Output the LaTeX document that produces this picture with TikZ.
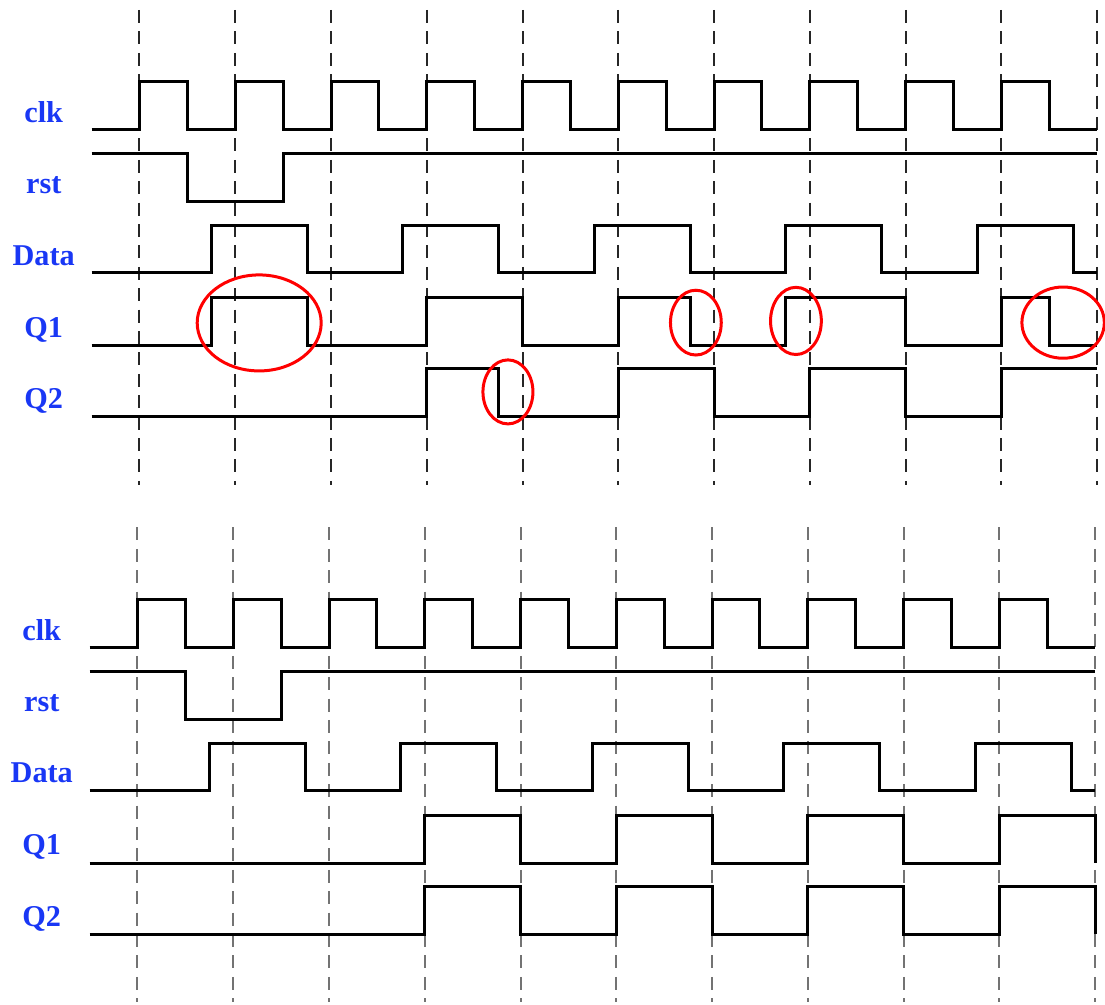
\documentclass[tikz,border=0pt]{standalone}
\usepackage{fontspec}
\setmainfont{Liberation Serif}
\usepackage{tikz}
\tikzset{>=latex}
\definecolor{Label}{RGB}{25,55,245}
\tikzset{sig/.style={line width=0.075cm,line join=miter},
         grid/.style={line width=0.05cm,dash pattern=on 0.325cm off 0.21cm},
         lbl/.style={text=Label,anchor=base,font=\fontsize{21.5}{21.5}\selectfont\bfseries},
         ring/.style={red,line width=0.075cm}}
\newcommand{\panel}[3]{%
  \foreach \k in {0,...,10} \draw[grid,#1] (4*\k,10) -- (4*\k,485);
  \draw[sig] (-2,130) \foreach \k in {0,...,9}{-- (4*\k,130) -- (4*\k,82) -- (4*\k+2,82) -- (4*\k+2,130)} -- (40,130);
  \draw[sig] plot[const plot] coordinates {(-2,154) (2,202) (6,154) (40,154)};
  \draw[sig] plot[const plot] coordinates {(-2,273) (3,226) (7,273) (11,226) (15,273) (19,226) (23,273) (27,226) (31,273) (35,226) (39,273) (40,273)};
  \draw[sig] plot[const plot] coordinates {#2};
  \draw[sig] plot[const plot] coordinates {#3};
  \node[lbl] (clk) at (-4,123) {clk};
  \node[lbl] (rst) at (-4,194) {rst};
  \node[lbl] (data) at (-4,265.5) {Data};
  \node[lbl] (q1) at (-4,337.5) {Q1};
  \node[lbl] (q2) at (-4,409) {Q2};
}
\begin{document}
\begin{tikzpicture}[x=0.5985cm,y=-0.025cm]
  \useasboundingbox (-5.827,0) rectangle (40.33,1005);
  \begin{scope}[name prefix=top-]
    \panel{black!85}{(-2,346) (3,298) (7,346) (12,298) (16,346) (20,298) (23,346) (27,298) (32,346) (36,298) (38,346) (40,346)}{(-2,417) (12,369) (15,417) (20,369) (24,417) (28,369) (32,417) (36,369) (40,369)}
  \end{scope}
  \draw[ring] (5,323) ellipse [x radius=1.55cm,y radius=1.2cm];
  \draw[ring] (15.39,392) ellipse [x radius=0.625cm,y radius=0.8cm];
  \draw[ring] (23.24,322.7) ellipse [x radius=0.635cm,y radius=0.81cm];
  \draw[ring] (27.42,321) ellipse [x radius=0.635cm,y radius=0.84cm];
  \draw[ring] (38.58,322.7) ellipse [x radius=1.03cm,y radius=0.89cm];
  \begin{scope}[name prefix=bot-,shift={(-0.0835,517.5)}]
    \panel{black!55}{(-2,346) (12,298) (16,346) (20,298) (24,346) (28,298) (32,346) (36,298) (40,346)}{(-2,417) (12,369) (16,417) (20,369) (24,417) (28,369) (32,417) (36,369) (40,417)}
  \end{scope}
\end{tikzpicture}
\end{document}
